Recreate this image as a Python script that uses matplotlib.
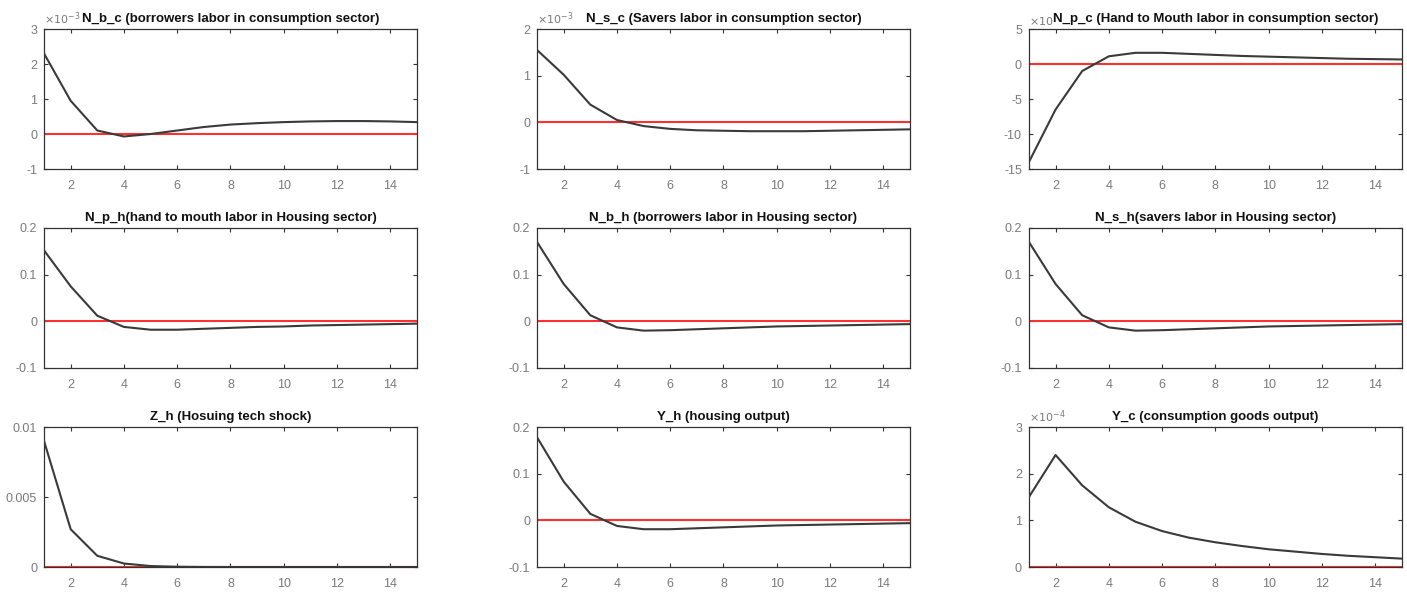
import numpy as np
import matplotlib
matplotlib.use('Agg')
from matplotlib import pyplot as plt

plt.rcParams['font.family'] = ['Liberation Sans', 'DejaVu Sans']

periods = np.arange(1, 16)

# impulse responses to the housing technology shock
N_b_c = np.array([2.3, 0.95, 0.1, -0.07, 0.0, 0.1, 0.2, 0.27, 0.31, 0.34, 0.36, 0.37, 0.37, 0.36, 0.34]) * 1e-3
N_s_c = np.array([1.55, 1.02, 0.38, 0.05, -0.08, -0.14, -0.17, -0.18, -0.19, -0.19, -0.19, -0.18, -0.17, -0.16, -0.15]) * 1e-3
N_p_c = np.array([-14.0, -6.5, -1.0, 1.1, 1.6, 1.6, 1.45, 1.3, 1.15, 1.05, 0.95, 0.85, 0.75, 0.7, 0.65]) * 1e-5
N_p_h = np.array([0.152, 0.075, 0.012, -0.012, -0.018, -0.018, -0.016, -0.014, -0.012, -0.011, -0.009, -0.008, -0.007, -0.006, -0.005])
N_b_h = np.array([0.17, 0.08, 0.013, -0.013, -0.02, -0.019, -0.017, -0.015, -0.013, -0.011, -0.01, -0.009, -0.008, -0.007, -0.006])
N_s_h = np.array([0.17, 0.08, 0.013, -0.013, -0.02, -0.019, -0.017, -0.015, -0.013, -0.011, -0.01, -0.009, -0.008, -0.007, -0.006])
Z_h = np.array([0.009, 0.0027, 0.0008, 0.00025, 0.00007, 0.00002, 0.000005, 0.0, 0.0, 0.0, 0.0, 0.0, 0.0, 0.0, 0.0])
Y_h = np.array([0.178, 0.083, 0.014, -0.012, -0.019, -0.019, -0.017, -0.015, -0.013, -0.011, -0.01, -0.009, -0.008, -0.007, -0.006])
Y_c = np.array([1.5, 2.4, 1.75, 1.28, 0.97, 0.77, 0.63, 0.53, 0.45, 0.38, 0.33, 0.28, 0.24, 0.21, 0.18]) * 1e-4

titles = ['N_b_c (borrowers labor in consumption sector)',
          'N_s_c (Savers labor in consumption sector)',
          'N_p_c (Hand to Mouth labor in consumption sector)',
          'N_p_h(hand to mouth labor in Housing sector)',
          'N_b_h (borrowers labor in Housing sector)',
          'N_s_h(savers labor in Housing sector)',
          'Z_h (Hosuing tech shock)',
          'Y_h (housing output)',
          'Y_c (consumption goods output)']
series = [N_b_c, N_s_c, N_p_c, N_p_h, N_b_h, N_s_h, Z_h, Y_h, Y_c]
exponents = [-3, -3, -5, None, None, None, None, None, -4]
ylims = [(-1, 3), (-1, 2), (-15, 5), (-0.1, 0.2), (-0.1, 0.2), (-0.1, 0.2), (0, 0.01), (-0.1, 0.2), (0, 3)]
yticks = [[-1, 0, 1, 2, 3], [-1, 0, 1, 2], [-15, -10, -5, 0, 5],
          [-0.1, 0, 0.1, 0.2], [-0.1, 0, 0.1, 0.2], [-0.1, 0, 0.1, 0.2],
          [0, 0.005, 0.01], [-0.1, 0, 0.1, 0.2], [0, 1, 2, 3]]
ytick_labels = [['-1', '0', '1', '2', '3'], ['-1', '0', '1', '2'], ['-15', '-10', '-5', '0', '5'],
                ['-0.1', '0', '0.1', '0.2'], ['-0.1', '0', '0.1', '0.2'], ['-0.1', '0', '0.1', '0.2'],
                ['0', '0.005', '0.01'], ['-0.1', '0', '0.1', '0.2'], ['0', '1', '2', '3']]

fig = plt.figure(figsize=(14.07, 5.92), dpi=100)

lefts = [0.0313, 0.3817, 0.7313]
bottoms = [0.7145, 0.3784, 0.0422]
w, h = 0.265, 0.2365
grey = '#7a7a7a'

for k in range(9):
    r, c = divmod(k, 3)
    ax = fig.add_axes([lefts[c], bottoms[r], w, h])
    scale = 10.0 ** exponents[k] if exponents[k] is not None else 1.0
    ax.plot(periods, series[k] / scale, color='#3a3a3a', lw=1.5, zorder=3)
    ax.plot(periods, np.zeros_like(periods), color='#ff3030', lw=1.5, zorder=2)
    ax.set_xlim(1, 15)
    ax.set_ylim(*ylims[k])
    ax.set_xticks([2, 4, 6, 8, 10, 12, 14])
    ax.set_yticks(yticks[k])
    ax.set_yticklabels(ytick_labels[k])
    ax.tick_params(direction='in', top=True, right=True, length=3, width=0.8,
                   labelsize=9, labelcolor=grey, color='#333333', pad=5)
    ax.tick_params(axis='x', pad=8)
    for s in ax.spines.values():
        s.set_color('#333333')
        s.set_linewidth(0.9)
    if exponents[k] is not None:
        # long title on the third panel leaves room only for the base
        label = r'$\times10$' if k == 2 else r'$\times10^{%d}$' % exponents[k]
        ax.text(0.0, 1.015, label, transform=ax.transAxes,
                fontsize=8, color=grey, ha='left', va='bottom')
    ax.set_title(titles[k], fontsize=9.5, fontweight='bold', color='#111111', pad=5)

fig.savefig('out.png', dpi=100)
